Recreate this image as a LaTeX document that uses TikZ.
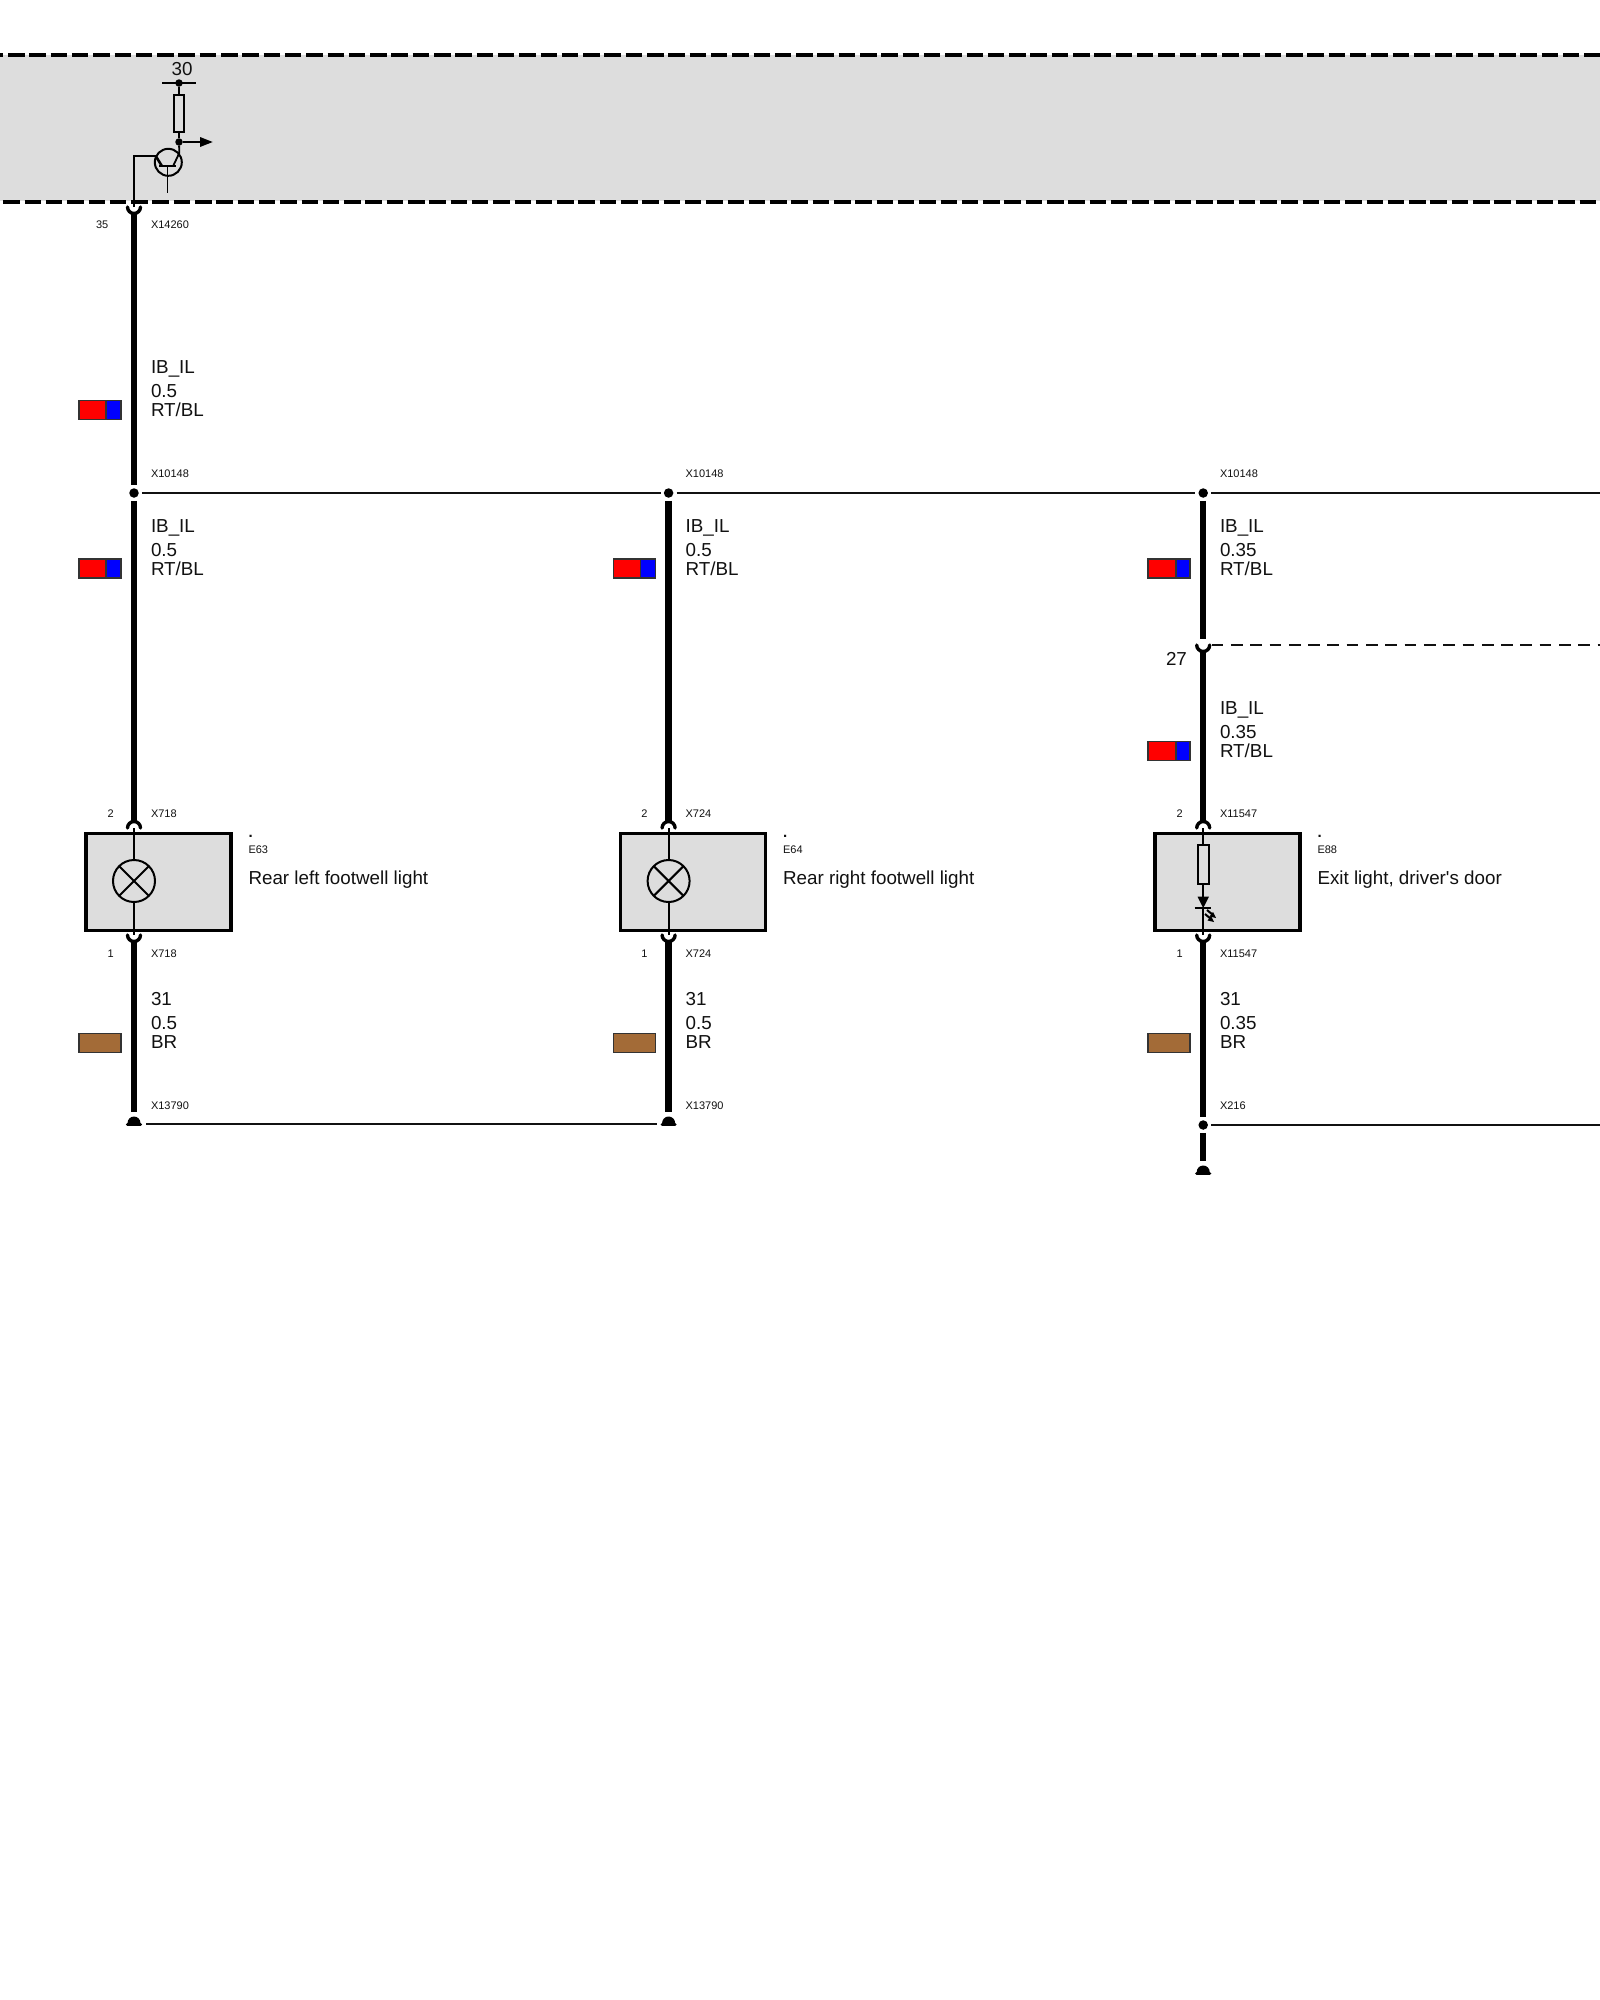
\documentclass[tikz,border=0pt]{standalone}
\usepackage{fontspec}
\setmainfont{Liberation Sans}
\newfontfamily\plainsans{Liberation Sans}
\definecolor{panel}{HTML}{DDDDDD}
\definecolor{wirebrown}{HTML}{A36B37}
\definecolor{ink}{HTML}{111111}
\newcommand{\cupup}[1]{\draw[cupline] ([xshift=-6.5pt]#1.center) arc[start angle=180,end angle=360,radius=6.5pt];}
\newcommand{\cupdown}[1]{\draw[cupline] ([xshift=-6.5pt]#1.center) arc[start angle=180,end angle=0,radius=6.5pt];}
\newcommand{\gndsym}[1]{\fill ([xshift=-6.5pt,yshift=1pt]#1.center) arc[start angle=180,end angle=0,radius=6.5pt] -- cycle;
  \draw[line width=3.2pt,line cap=round] ([xshift=-6.5pt,yshift=-0.5pt]#1.center) -- ([xshift=6.5pt,yshift=-0.5pt]#1.center);}
\tikzset{
  x=1pt,y=-1pt,
  bigtext/.style={anchor=base west,inner sep=0pt,outer sep=0pt,text=ink,font=\fontsize{18.8}{18.8}\selectfont},
  smalltext/.style={anchor=base west,inner sep=0pt,outer sep=0pt,text=ink,font=\fontsize{11}{11}\selectfont},
  dottext/.style={anchor=base west,inner sep=0pt,outer sep=0pt,text=ink,font=\fontsize{15}{15}\bfseries\selectfont},
  thickwire/.style={line width=6.5pt},
  thinwire/.style={line width=1.8pt},
  busline/.style={line width=2pt,draw=ink},
  cupline/.style={line width=3.4pt,line cap=round},
  jdot/.style={circle,fill=black,minimum size=9.5pt,inner sep=0pt,outer sep=3.2pt},
  pinpt/.style={circle,minimum size=13pt,inner sep=0pt,outer sep=0pt},
  gndpt/.style={circle,minimum size=24pt,inner sep=0pt,outer sep=0pt},
  boundary/.style={line width=4pt,dash pattern=on 16.5pt off 4.8pt},
  devbox/.style={draw=black,fill=panel,line width=3.5pt,minimum width=145pt,minimum height=97pt,inner sep=0pt,outer sep=0pt},
  lamp/.style={circle,draw=black,fill=panel,line width=2pt,minimum size=42pt,inner sep=0pt,outer sep=0pt},
  resistor/.style={draw=black,line width=2pt,inner sep=0pt,outer sep=0pt},
  swatchred/.style={fill=red,draw=black!80,line width=1.2pt,inner sep=0pt,outer sep=0pt,minimum height=19pt},
  swatchblue/.style={fill=blue,draw=black!80,line width=1.2pt,inner sep=0pt,outer sep=0pt,minimum height=19pt},
  swatchbrown/.style={fill=wirebrown,draw=black!80,line width=1.2pt,inner sep=0pt,outer sep=0pt,minimum width=42pt,minimum height=19pt},
  busdot/.style={circle,fill=black,minimum size=7.5pt,inner sep=0pt,outer sep=0pt},
}
\begin{document}
\begin{tikzpicture}
\useasboundingbox (0,0) rectangle (1600,2000);
\fill[white] (0,0) rectangle (1600,2000);

% control unit band
\fill[panel] (0,55) rectangle (1600,201);
\draw[boundary] (-13.3,55.3) -- (1600,55.3);
\draw[boundary] (3.3,201.5) -- (1600,201.5);

% junctions, pins, grounds
\node[jdot] (j1) at (134,493) {};
\node[jdot] (j2) at (668.6,493) {};
\node[jdot] (j3) at (1203.2,493) {};
\node[pinpt] (c0) at (134,207) {};
\node[pinpt] (t1) at (134,828) {};
\node[pinpt] (t2) at (668.6,828) {};
\node[pinpt] (t3) at (1203.2,828) {};
\node[pinpt] (b1) at (134,935) {};
\node[pinpt] (b2) at (668.6,935) {};
\node[pinpt] (b3) at (1203.2,935) {};
\node[pinpt] (s27) at (1203.2,645) {};
\node[gndpt] (g1) at (134,1124) {};
\node[gndpt] (g2) at (668.6,1124) {};
\node[jdot] (j4) at (1203.2,1125) {};
\node[gndpt] (g3) at (1203.2,1173) {};
\coordinate (busEnd) at (1600,493);
\coordinate (gndEnd) at (1600,1125);
\coordinate (dashEnd) at (1600,645);
\coordinate (dashStart) at (1211.6,645);

% thick wires
\draw[thickwire] (c0.south) -- (j1.north);
\draw[thickwire] (j1.south) -- (t1.north);
\draw[thickwire] (j2.south) -- (t2.north);
\draw[thickwire] (j3.south) -- (s27.north);
\draw[thickwire] (s27.south) -- (t3.north);
\draw[thickwire] (b1.south) -- (g1.north);
\draw[thickwire] (b2.south) -- (g2.north);
\draw[thickwire] (b3.south) -- (j4.north);
\draw[thickwire] (j4.south) -- (g3.north);

% horizontal lines
\draw[busline] (j1.east) -- (j2.west);
\draw[busline] (j2.east) -- (j3.west);
\draw[busline] (j3.east) -- (busEnd);
\draw[busline] (g1.east) -- (g2.west);
\draw[busline] (j4.east) -- (gndEnd);
\draw[line width=1.8pt,draw=ink,dash pattern=on 11.7pt off 7.6pt] (dashStart) -- (dashEnd);

% device boxes
\node[devbox] (e63) at (158.5,882) {};
\node[devbox] (e64) at (693.1,882) {};
\node[devbox] (e88) at (1227.25,882) {};

% lamps
\node[lamp] (l1) at (134,881) {};
\node[lamp] (l2) at (668.6,881) {};
\draw[thinwire] (t1.center) -- (l1.north);
\draw[thinwire] (l1.south) -- (b1.center);
\draw[thinwire] (t2.center) -- (l2.north);
\draw[thinwire] (l2.south) -- (b2.center);
\draw[line width=2pt] (l1.45) -- (l1.225) (l1.135) -- (l1.315);
\draw[line width=2pt] (l2.45) -- (l2.225) (l2.135) -- (l2.315);

% resistor and LED in E88
\node[resistor,minimum width=11pt,minimum height=39pt] (r3) at (1203.2,864.5) {};
\coordinate (ledtop) at (1203.2,897);
\coordinate (ledtip) at (1203.2,908);
\draw[thinwire] (t3.center) -- (r3.north);
\draw[thinwire] (r3.south) -- (ledtop);
\draw[thinwire] (ledtip) -- (b3.center);
\fill (1197.5,896.7) -- (1209,896.7) -- (ledtip) -- cycle;
\draw[line width=1.8pt] (1194.5,908) -- (1210.5,908);
\draw[line width=2pt] (1207,910) -- (1213,915);
\draw[line width=2pt] (1205,914) -- (1211,919);
\fill (1216,918) -- (1209.5,916.5) -- (1213,912) -- cycle;
\fill (1214,922) -- (1207.5,920.5) -- (1211,916) -- cycle;

% cups
\cupup{c0}
\cupdown{t1}\cupdown{t2}\cupdown{t3}
\cupup{b1}\cupup{b2}\cupup{b3}
\cupup{s27}

% grounds
\gndsym{g1}\gndsym{g2}\gndsym{g3}

% driver in the band
\node[circle,draw=black,line width=2pt,minimum size=27pt,inner sep=0pt] (q) at (168.3,162.3) {};
\node[busdot] (sup) at (179,83) {};
\node[busdot] (out) at (179,142) {};
\node[resistor,minimum width=10.5pt,minimum height=37pt] (r0) at (179,113.5) {};
\coordinate (baseIn) at (134,156);
\coordinate (baseTip) at (155.7,156);
\coordinate (barL) at (159,165.7);
\coordinate (barR) at (176,165.7);
\coordinate (emitOut) at (167.5,193);
\coordinate (barMid) at (167.5,165.7);
\coordinate (emitEnd) at (161.7,165.7);
\coordinate (colEnd) at (173.3,165.7);
\coordinate (colTop) at (179.3,153);
\coordinate (supL) at (162,83);
\coordinate (supR) at (196,83);
\coordinate (arrowEnd) at (200,142);
\draw[thinwire] (supL) -- (supR);
\draw[thinwire] (sup) -- (r0.north);
\draw[thinwire] (r0.south) -- (out);
\draw[thinwire] (out) -- (colTop) -- (colEnd);
\draw[thinwire] (c0.center) -- (baseIn) -- (baseTip);
\draw[line width=2.6pt] (baseTip) -- (emitEnd);
\draw[thinwire] (barL) -- (barR);
\draw[thinwire] (barMid) -- (emitOut);
\draw[thinwire] (out) -- (arrowEnd);
\fill (200,137) -- (212.7,142) -- (200,147) -- cycle;
\node[bigtext] (v30) at (171.7,75.7) {30};

% swatches
\node[swatchred,minimum width=27pt] (sa1) at (92.5,410) {};
\node[swatchblue,minimum width=15pt] (sa2) at (113.5,410) {};
\node[swatchred,minimum width=27pt] (sb1) at (92.5,568.5) {};
\node[swatchblue,minimum width=15pt] (sb2) at (113.5,568.5) {};
\node[swatchred,minimum width=27pt] (sc1) at (627.1,568.5) {};
\node[swatchblue,minimum width=15pt] (sc2) at (648.1,568.5) {};
\node[swatchred,minimum width=28pt] (sd1) at (1162,568.5) {};
\node[swatchblue,minimum width=14pt] (sd2) at (1183,568.5) {};
\node[swatchred,minimum width=28pt] (se1) at (1162,751) {};
\node[swatchblue,minimum width=14pt] (se2) at (1183,751) {};
\node[swatchbrown] (sf) at (100,1043) {};
\node[swatchbrown] (sg) at (634.6,1043) {};
\node[swatchbrown] (sh) at (1169,1043) {};

% small labels
\node[smalltext] (n35) at (96,228) {35};
\node[smalltext] (nx0) at (151,228) {X14260};
\node[smalltext] (nj1) at (151,477) {X10148};
\node[smalltext] (nj2) at (685.6,477) {X10148};
\node[smalltext] (nj3) at (1220,477) {X10148};
\node[smalltext] (p21) at (107.7,817) {2};
\node[smalltext] (x21) at (151,817) {X718};
\node[smalltext] (p22) at (641.3,817) {2};
\node[smalltext] (x22) at (685.6,817) {X724};
\node[smalltext] (p23) at (1176.7,817) {2};
\node[smalltext] (x23) at (1220,817) {X11547};
\node[smalltext] (p11) at (107.7,957) {1};
\node[smalltext] (x11) at (151,957) {X718};
\node[smalltext] (p12) at (641.3,957) {1};
\node[smalltext] (x12) at (685.6,957) {X724};
\node[smalltext] (p13) at (1176.7,957) {1};
\node[smalltext] (x13) at (1220,957) {X11547};
\node[smalltext] (xg1) at (151,1109) {X13790};
\node[smalltext] (xg2) at (685.6,1109) {X13790};
\node[smalltext] (xg3) at (1220,1109) {X216};

% device labels
\node[dottext] (d1) at (248.5,837) {.};
\node[smalltext] (id1) at (248.5,853) {E63};
\node[bigtext] (na1) at (248.5,884) {Rear left footwell light};
\node[dottext] (d2) at (783.1,837) {.};
\node[smalltext] (id2) at (783.1,853) {E64};
\node[bigtext] (na2) at (783.1,884) {Rear right footwell light};
\node[dottext] (d3) at (1317.5,837) {.};
\node[smalltext] (id3) at (1317.5,853) {E88};
\node[bigtext] (na3) at (1317.5,884) {\plainsans Exit light, driver's door};

% wire labels, column 1
\node[bigtext] (wa1) at (151,373) {IB\_IL};
\node[bigtext] (wa2) at (151,397) {0.5};
\node[bigtext] (wa3) at (151,416) {RT/BL};
\node[bigtext] (wb1) at (151,532) {IB\_IL};
\node[bigtext] (wb2) at (151,556) {0.5};
\node[bigtext] (wb3) at (151,575) {RT/BL};
\node[bigtext] (wf1) at (151,1005.5) {31};
\node[bigtext] (wf2) at (151,1029.5) {0.5};
\node[bigtext] (wf3) at (151,1048.5) {BR};
% column 2
\node[bigtext] (wc1) at (685.6,532) {IB\_IL};
\node[bigtext] (wc2) at (685.6,556) {0.5};
\node[bigtext] (wc3) at (685.6,575) {RT/BL};
\node[bigtext] (wg1) at (685.6,1005.5) {31};
\node[bigtext] (wg2) at (685.6,1029.5) {0.5};
\node[bigtext] (wg3) at (685.6,1048.5) {BR};
% column 3
\node[bigtext] (wd1) at (1220,532) {IB\_IL};
\node[bigtext] (wd2) at (1220,556) {0.35};
\node[bigtext] (wd3) at (1220,575) {RT/BL};
\node[bigtext] (n27) at (1166,665) {27};
\node[bigtext] (we1) at (1220,714) {IB\_IL};
\node[bigtext] (we2) at (1220,738) {0.35};
\node[bigtext] (we3) at (1220,757) {RT/BL};
\node[bigtext] (wh1) at (1220,1005.5) {31};
\node[bigtext] (wh2) at (1220,1029.5) {0.35};
\node[bigtext] (wh3) at (1220,1048.5) {BR};
\end{tikzpicture}
\end{document}
